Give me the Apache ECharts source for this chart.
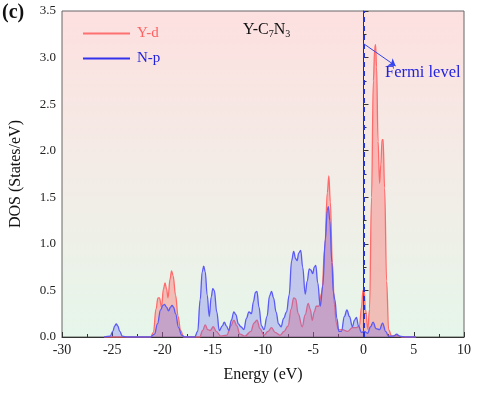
<!DOCTYPE html>
<html><head><meta charset="utf-8">
<script src="https://cdn.jsdelivr.net/npm/echarts@6/dist/echarts.min.js"></script>
<style>html,body{margin:0;padding:0;background:#fff}#c{width:480px;height:393px}</style>
</head><body><div id="c"></div>
<script>
const seriesNames = ['Y-d', 'N-p'];
const xTicks = [-30, -25, -20, -15, -10, -5, 0, 5, 10];
const yTicks = [0, 0.5, 1.0, 1.5, 2.0, 2.5, 3.0, 3.5];
const fermiArrow = [[0, 3.15], [3.2, 2.91]];

const yd = [[-25.8,0],[-21.2,0],[-20.9,0.05],[-20.65,0.3],[-20.45,0.42],[-20.3,0.42],[-20.1,0.32],[-19.9,0.52],[-19.75,0.58],[-19.6,0.52],[-19.45,0.42],[-19.25,0.62],[-19.1,0.71],[-18.95,0.66],[-18.7,0.45],[-18.45,0.22],[-18.2,0.07],[-17.9,0],[-16.3,0],[-16.0,0.07],[-15.75,0.13],[-15.5,0.08],[-15.25,0.07],[-14.95,0.11],[-14.65,0.06],[-14.2,0.01],[-13.6,0.02],[-13.2,0.12],[-12.9,0.18],[-12.6,0.12],[-12.3,0.03],[-11.8,0.01],[-11.2,0.06],[-10.9,0.15],[-10.6,0.18],[-10.3,0.09],[-9.9,0.02],[-9.5,0.06],[-9.15,0.1],[-8.8,0.05],[-8.3,0.02],[-7.9,0.06],[-7.5,0.12],[-7.2,0.3],[-6.95,0.42],[-6.75,0.41],[-6.5,0.25],[-6.1,0.11],[-5.8,0.24],[-5.5,0.36],[-5.3,0.3],[-5.1,0.18],[-4.9,0.27],[-4.7,0.33],[-4.45,0.33],[-4.15,0.48],[-3.85,0.95],[-3.6,1.55],[-3.45,1.73],[-3.3,1.45],[-3.1,0.8],[-2.9,0.35],[-2.7,0.15],[-2.5,0.08],[-2.1,0.08],[-1.6,0.06],[-1.1,0.1],[-0.7,0.1],[-0.4,0.12],[-0.2,0.32],[-0.05,0.5],[0.05,0.5],[0.2,0.3],[0.43,0.08],[0.6,0.3],[0.8,1.5],[0.98,2.75],[1.12,3.1],[1.2,3.14],[1.3,2.9],[1.45,2.1],[1.6,1.65],[1.72,1.85],[1.85,2.12],[1.95,2.12],[2.1,1.6],[2.3,0.6],[2.5,0.08],[2.8,0.01],[3.3,0.02],[3.8,0],[5.2,0]];

const np = [[-25.8,0],[-25.2,0.01],[-24.95,0.06],[-24.75,0.12],[-24.6,0.14],[-24.45,0.12],[-24.25,0.06],[-24.0,0.01],[-23.5,0],[-21.2,0],[-20.8,0.03],[-20.5,0.14],[-20.2,0.29],[-19.95,0.34],[-19.8,0.35],[-19.6,0.32],[-19.4,0.28],[-19.2,0.32],[-19.05,0.34],[-18.9,0.32],[-18.7,0.25],[-18.4,0.1],[-18.1,0.02],[-17.8,0],[-16.8,0],[-16.5,0.06],[-16.25,0.4],[-16.05,0.7],[-15.9,0.76],[-15.75,0.7],[-15.55,0.45],[-15.35,0.22],[-15.15,0.43],[-15.0,0.52],[-14.85,0.5],[-14.6,0.27],[-14.35,0.07],[-14.05,0.12],[-13.85,0.16],[-13.65,0.12],[-13.4,0.07],[-13.15,0.18],[-12.9,0.27],[-12.7,0.24],[-12.45,0.14],[-12.2,0.11],[-11.9,0.08],[-11.65,0.2],[-11.4,0.27],[-11.15,0.25],[-10.95,0.38],[-10.75,0.48],[-10.6,0.49],[-10.4,0.32],[-10.15,0.12],[-9.9,0.08],[-9.6,0.22],[-9.35,0.44],[-9.15,0.49],[-8.95,0.42],[-8.7,0.27],[-8.45,0.14],[-8.2,0.11],[-7.95,0.2],[-7.65,0.27],[-7.4,0.45],[-7.15,0.82],[-6.95,0.92],[-6.75,0.84],[-6.6,0.82],[-6.45,0.9],[-6.25,0.93],[-6.05,0.75],[-5.8,0.46],[-5.6,0.6],[-5.4,0.73],[-5.25,0.72],[-5.05,0.68],[-4.9,0.75],[-4.75,0.77],[-4.55,0.58],[-4.3,0.33],[-4.05,0.55],[-3.8,1.05],[-3.6,1.36],[-3.5,1.4],[-3.35,1.25],[-3.15,0.8],[-3.0,0.48],[-2.85,0.4],[-2.65,0.2],[-2.45,0.06],[-2.2,0.06],[-1.9,0.22],[-1.65,0.29],[-1.4,0.22],[-1.1,0.11],[-0.9,0.18],[-0.7,0.21],[-0.5,0.12],[-0.2,0.05],[0.1,0.06],[0.4,0.04],[0.7,0.11],[0.95,0.16],[1.25,0.09],[1.6,0.08],[1.9,0.15],[2.2,0.06],[2.5,0.01],[3.0,0.01],[3.3,0.03],[3.6,0.01],[4.2,0],[5.2,0]];

const serif = '"Liberation Serif", "DejaVu Serif", serif';
const chart = echarts.init(document.getElementById('c'));
chart.setOption({
  animation: false,
  textStyle: { fontFamily: serif },
  grid: {
    left: 60, right: 16, top: 11, bottom: 56, show: true, borderColor: '#666', borderWidth: 1,
    backgroundColor: new echarts.graphic.LinearGradient(0, 0, 0, 1, [
      { offset: 0, color: '#fde0e0' },
      { offset: 0.5, color: '#f3ece6' },
      { offset: 1, color: '#e6f6ea' }
    ])
  },
  legend: {
    orient: 'vertical', left: 78, top: 21, itemWidth: 47, itemHeight: 2, itemGap: 10,
    textStyle: { fontFamily: serif, fontSize: 15, padding: [0, 0, 0, 2] },
    data: [
      { name: seriesNames[0], icon: 'rect', itemStyle: { color: '#ff7070' }, textStyle: { color: '#ff6060' } },
      { name: seriesNames[1], icon: 'rect', itemStyle: { color: '#3333ee' }, textStyle: { color: '#2222dd' } }
    ]
  },
  xAxis: {
    type: 'value', min: -30, max: 10, interval: 5,
    name: 'Energy (eV)', nameLocation: 'middle', nameGap: 30,
    nameTextStyle: { fontFamily: serif, fontSize: 16, color: '#111' },
    axisLine: { lineStyle: { color: '#333' } },
    axisTick: { inside: true, length: 5, lineStyle: { color: '#333' } },
    minorTick: { show: true, splitNumber: 2, length: 3, lineStyle: { color: '#333' } },
    splitLine: { show: false },
    axisLabel: { fontFamily: serif, fontSize: 14, color: '#222', margin: 6,
      formatter: v => xTicks.includes(v) ? String(v) : '' }
  },
  yAxis: {
    type: 'value', min: 0, max: 3.5, interval: 0.5,
    name: 'DOS (States/eV)', nameLocation: 'middle', nameGap: 38,
    nameTextStyle: { fontFamily: serif, fontSize: 16, color: '#111' },
    axisLine: { show: true, lineStyle: { color: '#333' } },
    axisTick: { show: true, inside: true, length: 5, lineStyle: { color: '#333' } },
    minorTick: { show: true, splitNumber: 2, length: 3, lineStyle: { color: '#333' } },
    splitLine: { show: false },
    axisLabel: { fontFamily: serif, fontSize: 13, color: '#222', margin: 6,
      formatter: v => yTicks.includes(v) ? v.toFixed(1) : '' }
  },
  series: [
    {
      name: seriesNames[0], type: 'line', data: yd, smooth: 0.4, smoothMonotone: 'x',
      showSymbol: false, symbol: 'none', z: 3,
      lineStyle: { color: '#ff6b6b', width: 1.3 },
      itemStyle: { color: '#ff7070' },
      areaStyle: { color: 'rgba(255,90,90,0.5)' },
      markLine: {
        silent: true, symbol: ['none', 'none'], label: { show: false },
        lineStyle: { color: '#2233dd', type: [5, 4], width: 2 },
        data: [{ xAxis: 0 }]
      }
    },
    {
      name: seriesNames[1], type: 'line', data: np, smooth: 0.4, smoothMonotone: 'x',
      showSymbol: false, symbol: 'none', z: 4,
      lineStyle: { color: '#5a5af5', width: 1.3 },
      itemStyle: { color: '#3333ee' },
      areaStyle: { color: 'rgba(90,90,245,0.4)' },
      markLine: {
        silent: true, symbol: ['none', 'arrow'], symbolSize: 7, label: { show: false },
        lineStyle: { color: '#3344ee', type: 'solid', width: 1 },
        data: [[{ coord: fermiArrow[0] }, { coord: fermiArrow[1] }]]
      }
    }
  ],
  graphic: [
    { type: 'text', left: 2, top: 3, style: { text: '(c)', font: 'bold 20px ' + serif, fill: '#111' } },
    { type: 'text', left: 243, top: 22, style: {
      text: 'Y-C{s|7}N{s|3}', font: '16px ' + serif, fill: '#111',
      rich: { s: { fontSize: 10, fontFamily: serif, verticalAlign: 'bottom', padding: [8, 0, 0, 0] } }
    } },
    { type: 'text', left: 385, top: 64, style: { text: 'Fermi level', font: '16.5px ' + serif, fill: '#2222dd' } }
  ]
});
</script></body></html>
